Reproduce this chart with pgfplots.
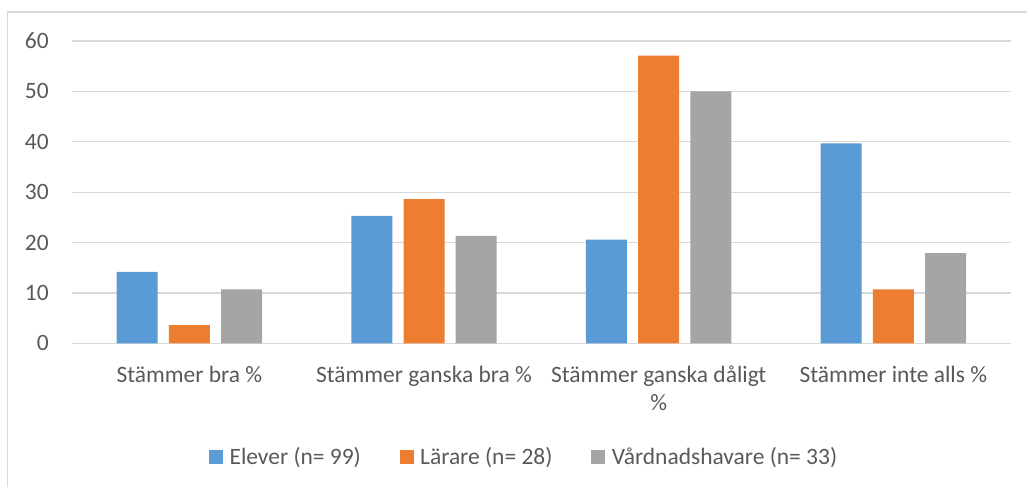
\documentclass[border=0pt]{standalone}
\usepackage{pgfplots}
\pgfplotsset{compat=1.18}
\usepackage{fontspec}
\setmainfont{Carlito}
\definecolor{cblue}{HTML}{5B9BD5}
\definecolor{corange}{HTML}{ED7D31}
\definecolor{cgray}{HTML}{A5A5A5}
\definecolor{ctext}{HTML}{595959}
\definecolor{cgrid}{HTML}{D9D9D9}
\newcommand{\lf}{\fontsize{17.6}{21}\selectfont}
\begin{document}
\begin{tikzpicture}
\path[use as bounding box] (0,0) rectangle (770.25pt,365.25pt);
\draw[cgrid, line width=0.9pt] (5.8pt,0) -- (5.8pt,356.25pt) -- (770.25pt,356.25pt);
\begin{axis}[
  at={(54pt,107.78pt)}, anchor=south west, scale only axis,
  width=704pt, height=226.7pt,
  ymin=0, ymax=60, ytick={0,10,...,60},
  xmin=-0.5, xmax=3.5, xtick={0,1,2,3},
  xticklabels={Stämmer bra \%, Stämmer ganska bra \%, {\begin{tabular}[t]{@{}c@{}}Stämmer ganska dåligt\\\%\end{tabular}}, Stämmer inte alls \%},
  ybar=8.4pt, bar width=30.75pt,
  axis line style={draw=none}, major tick length=0pt,
  ymajorgrids, grid style={cgrid, line width=0.9pt},
  tick label style={font=\lf, text=ctext},
  /pgf/number format/assume math mode=true,
  yticklabel style={anchor=east, inner sep=0pt, xshift=-17.25pt},
  xticklabel style={anchor=base, inner sep=0pt, yshift=-29.55pt},
  legend columns=3,
  legend image code/.code={\fill[#1] (0pt,-5.25pt) rectangle (10.5pt,5.25pt);},
  legend style={draw=none, fill=none, at={(0.4805,-0.376)}, anchor=center,
    font=\lf, text=ctext, nodes={inner sep=0pt},
    /tikz/every odd column/.append style={column sep=5pt},
    /tikz/every even column/.append style={column sep=29pt}},
]
\addplot[fill=cblue, draw=none] coordinates {(0,14.2) (1,25.3) (2,20.6) (3,39.7)};
\addplot[fill=corange, draw=none] coordinates {(0,3.6) (1,28.6) (2,57.1) (3,10.7)};
\addplot[fill=cgray, draw=none] coordinates {(0,10.7) (1,21.3) (2,50.0) (3,17.9)};
\legend{Elever (n= 99), Lärare (n= 28), Vårdnadshavare (n= 33)}
\end{axis}
\end{tikzpicture}
\end{document}
